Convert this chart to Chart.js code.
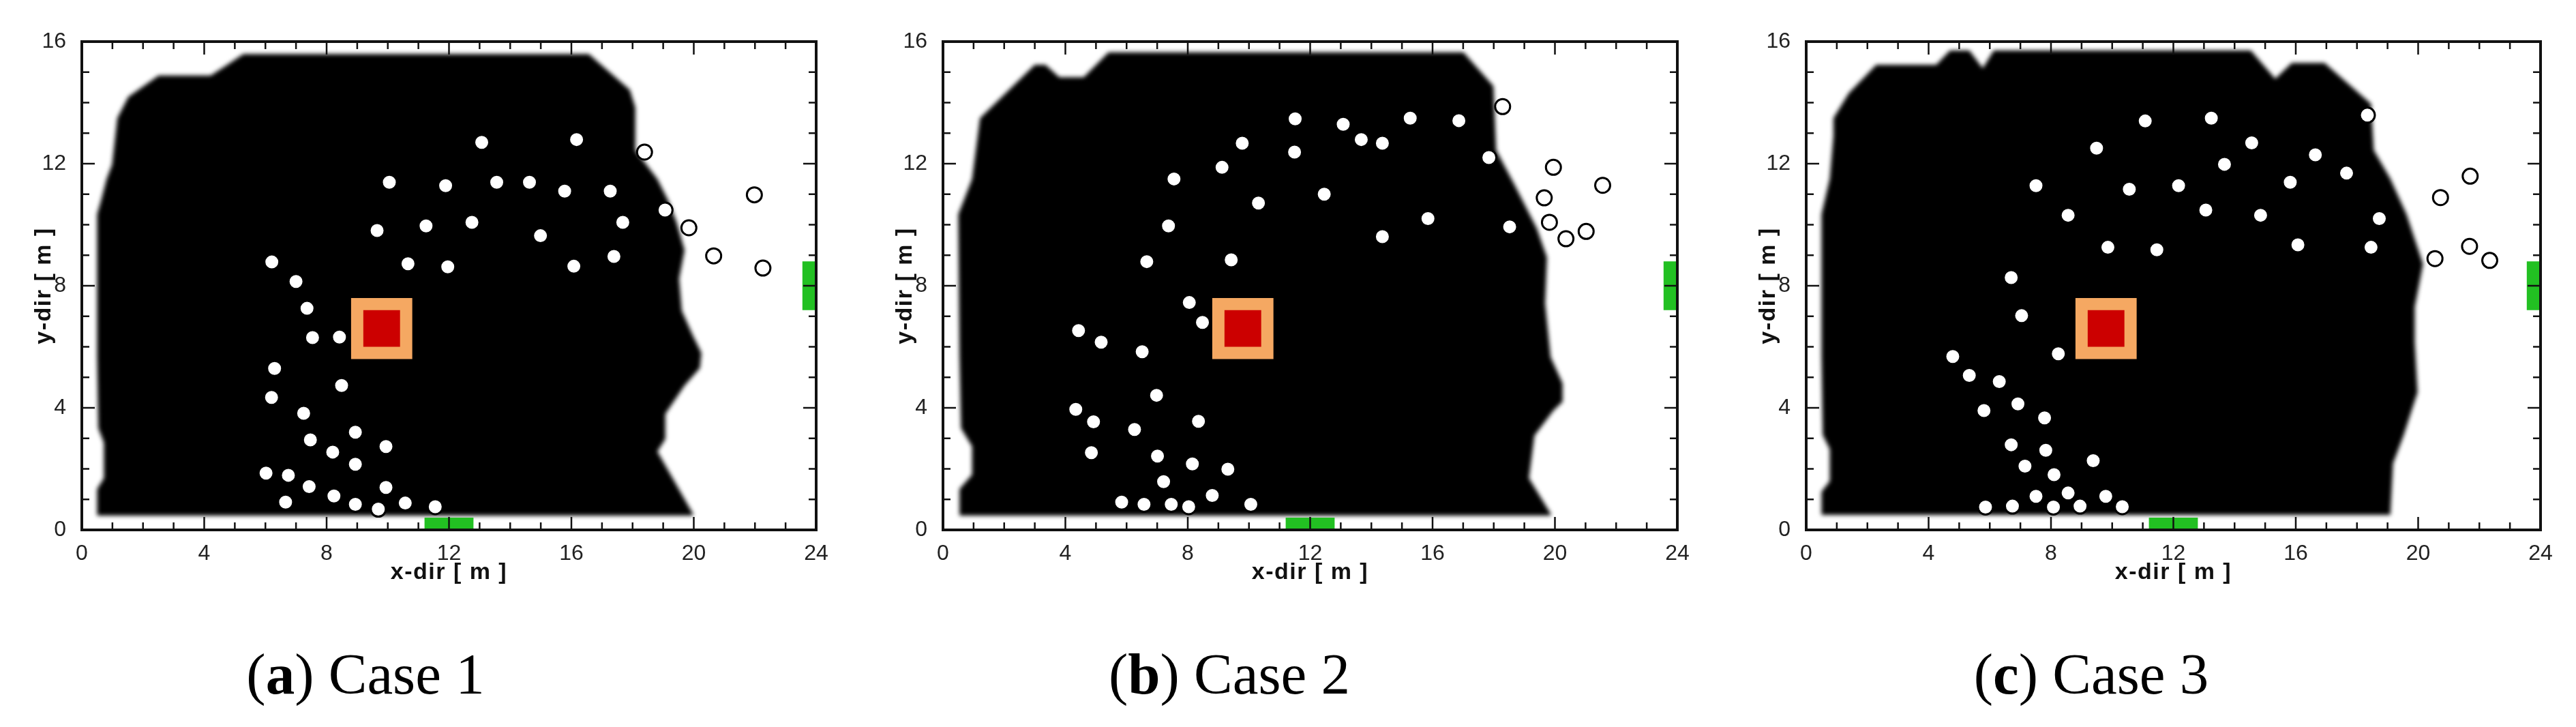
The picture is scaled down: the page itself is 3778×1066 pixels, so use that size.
<!DOCTYPE html>
<html>
<head>
<meta charset="utf-8">
<script src="https://cdn.jsdelivr.net/npm/chart.js@4.4.1/dist/chart.umd.min.js"></script>
<style>
  body { margin: 0; background: #fff; width: 3778px; height: 1066px; position: relative; overflow: hidden; }
  .panel { position: absolute; top: 0; }
  .caption { position: absolute; top: 946px; font: 85px "Liberation Serif", "Times New Roman", serif; line-height: 1; white-space: nowrap; transform: translateX(-50%); color: #000; }
</style>
</head>
<body>
<canvas id="caseA" class="panel" width="1263" height="870" style="left:0px"></canvas>
<canvas id="caseB" class="panel" width="1263" height="870" style="left:1263px"></canvas>
<canvas id="caseC" class="panel" width="1263" height="870" style="left:2529px"></canvas>
<div class="caption" style="left:536px">(<b>a</b>) Case 1</div>
<div class="caption" style="left:1803px">(<b>b</b>) Case 2</div>
<div class="caption" style="left:3067px">(<b>c</b>) Case 3</div>
<script>
// axes
const xMax = 24;
const yMax = 16;
const tickStep = 4;

// fire source (outer hot zone + core), exits
const fireOuter = [[8.8, 5.6], [10.8, 5.6], [10.8, 7.6], [8.8, 7.6]];
const fireInner = [[9.2, 6.0], [10.4, 6.0], [10.4, 7.2], [9.2, 7.2]];
const exitBottom = [[11.2, 0], [12.8, 0], [12.8, 0.4], [11.2, 0.4]];
const exitRight = [[23.55, 7.2], [24, 7.2], [24, 8.8], [23.55, 8.8]];

// smoke region outlines
const smokeA = [[0.50,0.47],[0.50,1.34],[0.72,1.69],[0.72,2.86],[0.54,3.33],[0.50,5.66],[0.50,10.34],[0.63,10.80],[0.81,11.50],[0.99,11.97],[1.16,13.49],[1.52,14.19],[2.51,14.89],[4.21,14.89],[4.66,15.18],[5.28,15.59],[16.57,15.59],[17.91,14.42],[18.09,13.84],[18.09,12.44],[18.81,11.50],[19.16,10.80],[19.43,10.10],[19.70,9.17],[19.52,8.23],[19.61,7.18],[19.97,6.37],[20.25,5.80],[20.20,5.30],[19.70,4.73],[19.07,3.80],[19.07,2.98],[18.81,2.57],[19.97,0.53],[19.97,0.47]];
const smokeB = [[0.54,0.47],[0.54,1.34],[0.95,1.81],[0.95,2.74],[0.59,3.33],[0.54,5.66],[0.50,10.34],[0.68,10.80],[0.95,11.50],[1.21,13.49],[3.00,15.24],[3.35,15.24],[3.80,14.83],[4.60,14.83],[5.41,15.65],[17.01,15.65],[17.99,14.54],[18.08,12.44],[18.70,11.27],[19.41,9.87],[19.74,8.93],[19.68,7.42],[19.86,5.66],[20.25,4.80],[20.25,4.20],[19.95,3.91],[19.33,3.09],[19.15,1.69],[19.86,0.53],[19.86,0.47]];
const smokeC = [[0.50,0.49],[0.50,1.25],[0.77,1.60],[0.77,2.65],[0.54,3.11],[0.50,5.68],[0.50,10.34],[0.77,11.51],[0.89,12.91],[0.89,13.49],[1.39,14.31],[2.29,15.24],[4.25,15.24],[4.70,15.71],[5.33,15.71],[5.77,15.13],[6.13,15.71],[14.53,15.71],[15.33,14.78],[15.87,15.30],[16.94,15.30],[18.46,13.96],[18.55,12.44],[19.09,11.51],[19.62,10.34],[20.16,8.71],[19.89,7.31],[19.89,6.15],[19.98,4.51],[19.53,3.11],[19.18,2.18],[19.09,0.49]];

// occupants
const peopleA = [[13.07,12.70],[16.17,12.79],[18.39,12.38],[10.05,11.39],[11.89,11.28],[13.56,11.39],[14.63,11.39],[15.78,11.10],[17.27,11.10],[21.98,10.98],[19.06,10.48],[19.84,9.90],[9.65,9.81],[11.25,9.96],[12.75,10.08],[14.99,9.64],[17.68,10.08],[20.65,8.98],[22.26,8.58],[17.39,8.96],[16.08,8.64],[11.96,8.62],[10.66,8.72],[6.21,8.78],[7.00,8.14],[7.36,7.26],[7.54,6.30],[8.42,6.32],[6.30,5.29],[8.49,4.73],[6.20,4.34],[7.25,3.82],[8.94,3.20],[7.47,2.95],[9.94,2.73],[8.20,2.55],[8.94,2.15],[6.02,1.86],[6.75,1.79],[7.43,1.42],[8.24,1.11],[9.94,1.39],[6.66,0.91],[8.94,0.84],[9.69,0.68],[10.57,0.88],[11.55,0.76]];
const peopleB = [[18.29,13.87],[11.51,13.47],[13.08,13.29],[15.27,13.49],[16.86,13.41],[13.67,12.79],[14.36,12.67],[9.78,12.67],[11.49,12.38],[17.84,12.20],[9.12,11.88],[19.95,11.88],[7.55,11.50],[21.56,11.29],[12.46,11.00],[19.65,10.88],[10.31,10.71],[15.85,10.20],[7.37,9.96],[18.52,9.93],[19.82,10.08],[21.02,9.78],[20.36,9.54],[14.36,9.61],[6.66,8.79],[9.42,8.85],[8.05,7.45],[8.48,6.80],[4.43,6.53],[5.17,6.15],[6.51,5.84],[6.98,4.41],[4.34,3.95],[4.92,3.54],[8.35,3.56],[6.26,3.29],[4.85,2.53],[7.01,2.42],[8.15,2.16],[9.31,1.99],[7.21,1.58],[8.80,1.13],[5.84,0.91],[6.57,0.84],[7.46,0.84],[8.03,0.76],[10.06,0.84]];
const peopleC = [[18.34,13.59],[11.08,13.40],[13.24,13.49],[14.56,12.68],[9.49,12.51],[16.64,12.29],[13.67,11.98],[17.66,11.69],[21.70,11.59],[7.51,11.28],[10.56,11.16],[12.17,11.28],[15.82,11.39],[20.73,10.89],[13.06,10.48],[8.56,10.31],[14.85,10.31],[18.73,10.20],[9.86,9.26],[11.46,9.18],[16.07,9.34],[18.46,9.26],[21.68,9.29],[20.55,8.89],[22.34,8.83],[6.70,8.27],[7.04,7.02],[8.24,5.77],[4.79,5.68],[5.33,5.06],[6.31,4.86],[6.92,4.13],[5.81,3.91],[7.79,3.67],[6.70,2.79],[7.83,2.61],[9.38,2.27],[7.15,2.09],[8.10,1.81],[8.56,1.21],[7.51,1.10],[9.79,1.10],[5.86,0.75],[6.74,0.78],[8.08,0.75],[8.95,0.78],[10.33,0.76]];

const toPts = arr => arr.map(([x, y]) => ({ x, y }));

function shape(points, color, order) {
    return {
        type: 'scatter',
        data: toPts(points),
        showLine: true,
        fill: 'shape',
        backgroundColor: color,
        borderWidth: 0,
        pointRadius: 0,
        order: order
    };
}

// frame with inward ticks on all four sides, blur on the smoke edge, axis titles
const framePlugin = {
    id: 'frame',
    beforeDatasetsDraw(chart) {
        chart.ctx.filter = 'blur(3px)';
    },
    afterDatasetDraw(chart, args) {
        if (args.index === 0) chart.ctx.filter = 'none';
    },
    afterDatasetsDraw(chart) {
        const { ctx, chartArea: a, scales: { x, y } } = chart;
        ctx.save();
        ctx.filter = 'none';
        ctx.strokeStyle = '#111';
        ctx.lineWidth = 2.5;
        ctx.beginPath();
        for (let v = 0; v <= xMax; v++) {
            const px = x.getPixelForValue(v);
            const len = v % tickStep === 0 ? 19 : 11;
            ctx.moveTo(px, a.bottom); ctx.lineTo(px, a.bottom - len);
            ctx.moveTo(px, a.top); ctx.lineTo(px, a.top + len);
        }
        for (let v = 0; v <= yMax; v++) {
            const py = y.getPixelForValue(v);
            const len = v % tickStep === 0 ? 19 : 11;
            ctx.moveTo(a.left, py); ctx.lineTo(a.left + len, py);
            ctx.moveTo(a.right, py); ctx.lineTo(a.right - len, py);
        }
        ctx.stroke();
        ctx.lineWidth = 4;
        ctx.strokeRect(a.left, a.top, a.width, a.height);
        ctx.restore();
    },
    afterDraw(chart) {
        const { ctx, chartArea: a } = chart;
        ctx.save();
        ctx.fillStyle = '#111';
        ctx.font = 'bold 34px "Liberation Sans", Arial, sans-serif';
        ctx.letterSpacing = '1.5px';
        ctx.textAlign = 'center';
        ctx.textBaseline = 'alphabetic';
        ctx.fillText('x-dir [ m ]', (a.left + a.right) / 2, a.bottom + 72);
        ctx.translate(a.left - 46, (a.top + a.bottom) / 2);
        ctx.rotate(-Math.PI / 2);
        ctx.fillText('y-dir [ m ]', 0, 0);
        ctx.restore();
    }
};

const tickFont = { family: '"Liberation Sans", Arial, sans-serif', size: 32 };

function makeCase(canvasId, smoke, people) {
    new Chart(document.getElementById(canvasId), {
        type: 'scatter',
        data: {
            datasets: [
                shape(smoke, '#000000', 10),
                shape(fireOuter, '#f5a862', 8),
                shape(fireInner, '#cc0000', 7),
                shape(exitBottom, '#22c022', 6),
                shape(exitRight, '#22c022', 5),
                {
                    type: 'scatter',
                    data: toPts(people),
                    showLine: false,
                    pointRadius: 11,
                    pointBackgroundColor: '#ffffff',
                    pointBorderColor: '#000000',
                    pointBorderWidth: 3,
                    order: 1
                }
            ]
        },
        options: {
            responsive: false,
            animation: false,
            devicePixelRatio: 1,
            events: [],
            layout: { padding: { top: 61, right: 66, bottom: 0, left: 0 } },
            plugins: { legend: { display: false }, tooltip: { enabled: false } },
            scales: {
                x: {
                    type: 'linear', min: 0, max: xMax,
                    grid: { display: false }, border: { display: false },
                    ticks: { stepSize: tickStep, padding: 8, color: '#222', font: tickFont, maxRotation: 0 },
                    afterFit(s) { s.height = 93; }
                },
                y: {
                    type: 'linear', min: 0, max: yMax,
                    grid: { display: false }, border: { display: false },
                    ticks: { stepSize: tickStep, padding: 15, color: '#222', font: tickFont },
                    afterFit(s) { s.width = 120; }
                }
            }
        },
        plugins: [framePlugin]
    });
}

makeCase('caseA', smokeA, peopleA);
makeCase('caseB', smokeB, peopleB);
makeCase('caseC', smokeC, peopleC);
</script>
</body>
</html>
